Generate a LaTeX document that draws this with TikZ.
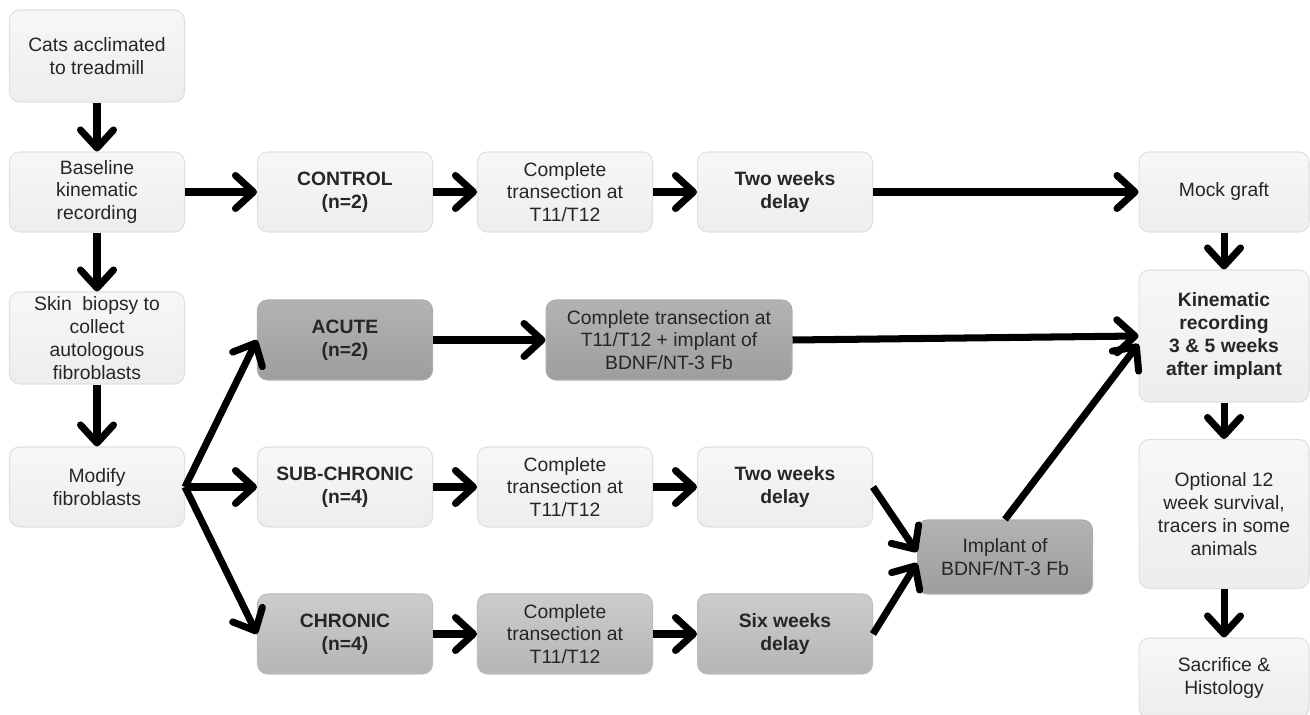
\documentclass[tikz,border=0pt]{standalone}
\usepackage{fontspec}
\setmainfont{Liberation Sans}
\usetikzlibrary{arrows.meta,calc,positioning}

\begin{document}
\begin{tikzpicture}[x=0.02cm,y=-0.02cm,
  >={Straight Barb[length=3.6mm,width=6.6mm,round]},
  box/.style={draw=black!12,line width=0.6pt,rounded corners=0.2cm,align=center,
    minimum width=3.5cm,minimum height=1.6cm,inner sep=2pt,text=black!85,
    font=\fontsize{11}{13}\selectfont,top color=black!3,bottom color=black!7},
  darkbox/.style={box,draw=black!32,top color=black!30,bottom color=black!38},
  midbox/.style={box,draw=black!26,top color=black!20,bottom color=black!29},
  flow/.style={->,line width=4pt}]
  \clip (0,0) rectangle (1310,715);
  % left column
  \node[box,minimum height=1.84cm] (cats) at (97,56) {Cats acclimated\\to treadmill};
  \node[box] (base) at (97,192) {Baseline\\kinematic\\recording};
  \node[box,minimum height=1.84cm] (skin) at (97,338) {Skin\ \ biopsy to\\collect\\autologous\\fibroblasts};
  \node[box] (modify) at (97,487) {Modify\\fibroblasts};
  % control row
  \node[box,font=\fontsize{11}{13}\selectfont\bfseries] (ctrl) at (345,192) {CONTROL\\(n=2)};
  \node[box] (transA) at (565,192) {Complete\\transection at\\T11/T12};
  \node[box,font=\fontsize{11}{13}\selectfont\bfseries] (delayA) at (785,192) {Two weeks\\delay};
  % acute row
  \node[darkbox,font=\fontsize{11}{13}\selectfont\bfseries] (acute) at (345,340) {ACUTE\\(n=2)};
  \node[darkbox,minimum width=4.92cm] (transI) at (669,340) {Complete transection at\\T11/T12 + implant of\\BDNF/NT-3 Fb};
  % sub-chronic row
  \node[box,font=\fontsize{11}{13}\selectfont\bfseries] (sub) at (345,487) {SUB-CHRONIC\\(n=4)};
  \node[box] (transB) at (565,487) {Complete\\transection at\\T11/T12};
  \node[box,font=\fontsize{11}{13}\selectfont\bfseries] (delayB) at (785,487) {Two weeks\\delay};
  % chronic row
  \node[midbox,font=\fontsize{11}{13}\selectfont\bfseries] (chron) at (345,634) {CHRONIC\\(n=4)};
  \node[midbox] (transC) at (565,634) {Complete\\transection at\\T11/T12};
  \node[midbox,font=\fontsize{11}{13}\selectfont\bfseries] (delayC) at (785,634) {Six weeks\\delay};
  \node[darkbox,minimum height=1.48cm] (implant) at (1005,557) {Implant of\\BDNF/NT-3 Fb};
  % right column
  \node[box,minimum width=3.4cm] (mock) at (1224,192) {Mock graft};
  \node[box,minimum width=3.4cm,minimum height=2.64cm,font=\fontsize{11}{13}\selectfont\bfseries] (kin) at (1224,336) {Kinematic\\recording\\3 \& 5 weeks\\after implant};
  \node[box,minimum width=3.4cm,minimum height=2.98cm] (opt) at (1224,514) {Optional 12\\week survival,\\tracers in some\\animals};
  \node[box,minimum width=3.4cm] (sac) at (1224,678) {Sacrifice \&\\Histology};
  % connectors
  \foreach \a/\b in {cats/base,base/skin,skin/modify,mock/kin,kin/opt,opt/sac}
    \draw[flow] (\a.south) -- (\b.north);
  \foreach \a/\b in {base/ctrl,ctrl/transA,transA/delayA,delayA/mock,acute/transI,transI/kin,
    sub/transB,transB/delayB,chron/transC,transC/delayC}
    \draw[flow] (\a.east) -- (\b.west);
  \foreach \b in {acute,sub,chron}
    \draw[flow] (modify.east) -- (\b.west);
  \draw[flow] (delayB.east) -- ([yshift=0.1cm]implant.west);
  \draw[flow] (delayC.east) -- ([yshift=-0.12cm]implant.west);
  \draw[flow] (implant.north) -- ([yshift=-0.16cm]kin.west);
\end{tikzpicture}
\end{document}
